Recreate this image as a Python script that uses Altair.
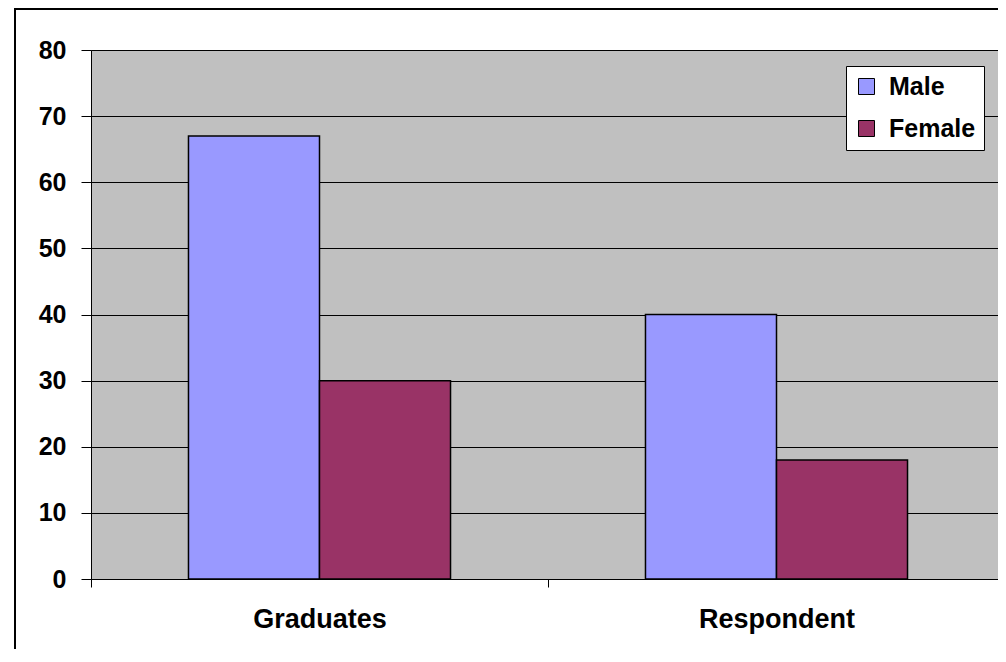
import altair as alt
import pandas as pd

categories = ["Graduates", "Respondent"]
series = ["Male", "Female"]
male = [67, 40]
female = [30, 18]
colors = ["#9999FF", "#993366"]
y_ticks = [0, 10, 20, 30, 40, 50, 60, 70, 80]

rows = []
for i, c in enumerate(categories):
    rows.append({"category": c, "series": "Male", "value": male[i]})
    rows.append({"category": c, "series": "Female", "value": female[i]})
df = pd.DataFrame(rows)

FONT = "Liberation Sans, Arial, sans-serif"

bars = alt.Chart(df).mark_bar(stroke="black", strokeWidth=1.5).encode(
    x=alt.X("category:N", sort=categories, title=None,
            scale=alt.Scale(paddingInner=0, paddingOuter=0, range=[0, 914]),
            axis=alt.Axis(labelAngle=0, tickBand="extent", tickSize=8,
                          labelPadding=19, domainColor="black", tickColor="black",
                          labelFontSize=27, labelFontWeight="bold", labelColor="black",
                          labelFont=FONT)),
    xOffset=alt.XOffset("series:N", sort=series,
                        scale=alt.Scale(paddingInner=0, paddingOuter=0.744)),
    y=alt.Y("value:Q", title=None,
            scale=alt.Scale(domain=[0, 80], nice=False),
            axis=alt.Axis(values=y_ticks, grid=True, gridColor="black", gridWidth=1,
                          gridOpacity=1, tickSize=10, labelPadding=15,
                          domainColor="black", tickColor="black",
                          labelFontSize=25, labelFontWeight="bold", labelColor="black",
                          labelFont=FONT)),
    color=alt.Color("series:N", sort=series,
                    scale=alt.Scale(domain=series, range=colors),
                    legend=alt.Legend(title=None, orient="none", legendX=755, legendY=16,
                                      fillColor="white", strokeColor="black",
                                      padding=8, symbolType="square", symbolSize=256,
                                      symbolStrokeColor="black", symbolStrokeWidth=1,
                                      symbolOpacity=1,
                                      labelFontSize=25, labelFontWeight="bold",
                                      labelColor="black", labelFont=FONT,
                                      rowPadding=16, labelOffset=10)),
)

border = alt.Chart(pd.DataFrame({"a": [0]})).mark_rect(
    filled=False, stroke="black", strokeWidth=2
).encode(
    x=alt.value(-76), x2=alt.value(1030),
    y=alt.value(-41), y2=alt.value(720),
)

chart = alt.layer(bars, border).properties(
    width=907, height=529,
    autosize=alt.AutoSizeParams(type="none"),
    padding={"left": 83, "top": 42, "right": 0, "bottom": 70},
    background="white",
).configure_view(
    fill="#C0C0C0", stroke="#808080", strokeWidth=1
)

chart.save("out.html", embed_options={"renderer": "svg", "actions": False})
